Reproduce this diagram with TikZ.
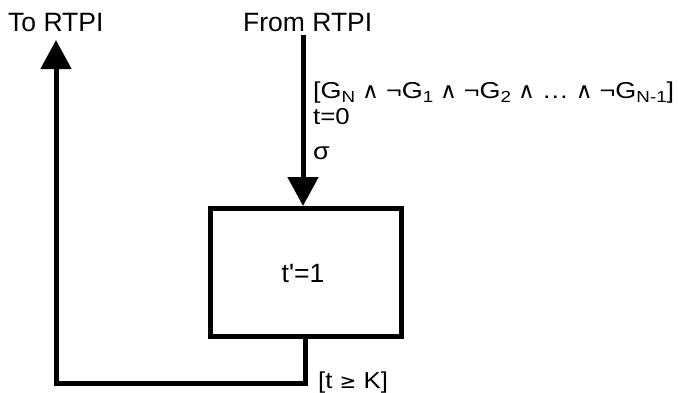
\documentclass[tikz,border=0pt]{standalone}
\usepackage{fontspec}
\usepackage{graphicx}
\setmainfont[Ligatures=TeXOff]{Liberation Sans}
\newfontfamily\labfont[FakeStretch=1.12,Ligatures=TeXOff]{Liberation Sans}
\newfontfamily\dv{DejaVu Sans}
\usetikzlibrary{arrows.meta}
\tikzset{
  conn/.style={line width=5pt, -{Triangle[width=30pt,length=29pt]}},
  big/.style={font=\fontsize{26.5}{30}\selectfont, inner sep=0pt},
  lab/.style={font=\labfont\fontsize{23}{27}\selectfont, inner sep=0pt},
  boxnode/.style={draw, line width=5pt, minimum width=191.5pt, minimum height=127.5pt, inner sep=0pt}
}
\newcommand{\myand}{\makebox[15pt]{\dv\fontsize{22}{24}\selectfont\char"2227}}
\newcommand{\mysub}[1]{\raisebox{-4pt}{\fontsize{16}{18}\selectfont #1}}
\begin{document}
\begin{tikzpicture}[x=1pt,y=-1pt]
\useasboundingbox (0,0) rectangle (678,392);
\node[big, anchor=base west] (to) at (8,31) {To RTPI};
\node[big, anchor=base west] (from) at (243,31) {From RTPI};
\node[boxnode] (box) at (305.75,272.25) {};
\node[big] (tp) at (303,273) {t'=1};
\coordinate (src) at (303,35);
\coordinate (bl) at (56,383);
\coordinate (tip) at (56,40);
\draw[conn] (src) -- (src |- box.north);
\draw[conn] (box.south) |- (bl) -- (tip);
\node[lab, anchor=base west] (g) at (313,98) {\resizebox{361pt}{\height}{[G\mysub{N} \myand{} ¬G\mysub{1} \myand{} ¬G\mysub{2} \myand{} … \myand{} ¬G\mysub{N-1}]}};
\node[lab, anchor=base west] (t0) at (313,124) {t=0};
\node[lab, anchor=base west] (sig) at (313,159) {\fontsize{24}{28}\selectfont σ};
\node[lab, anchor=base west] (tk) at (318,388) {[t {\dv\fontsize{20}{22}\selectfont ≥} K]};
\end{tikzpicture}
\end{document}
